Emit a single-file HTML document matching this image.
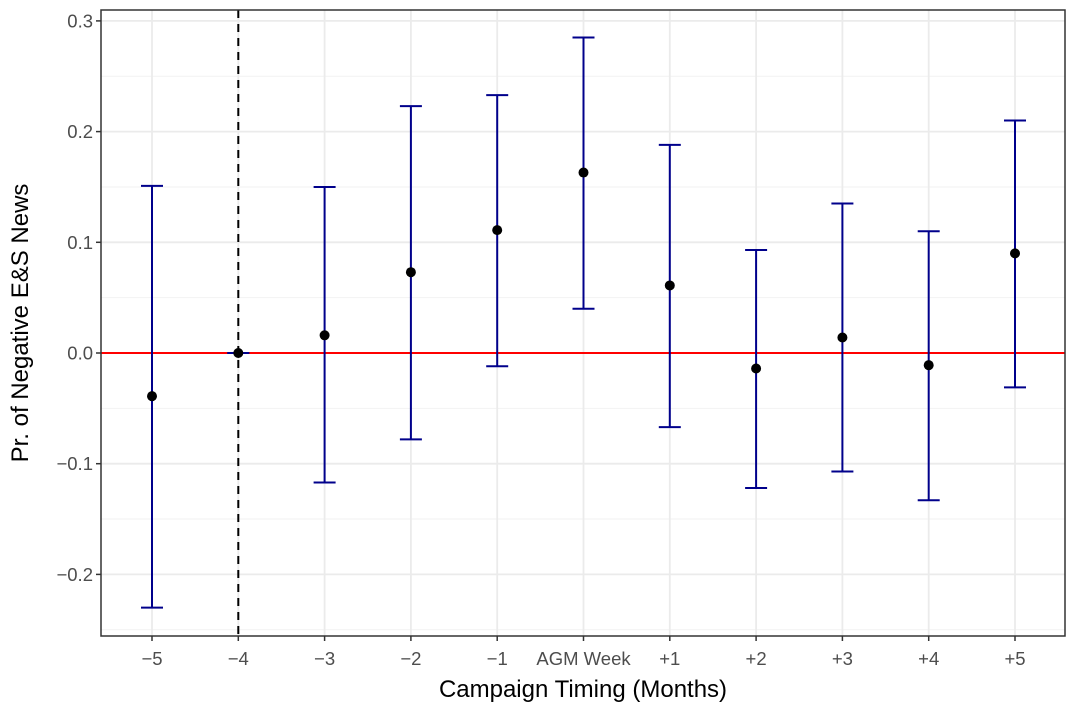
<!DOCTYPE html>
<html><head><meta charset="utf-8"><style>
html,body{margin:0;padding:0;background:#fff;}
svg{display:block;font-family:"Liberation Sans",sans-serif;}
</style></head><body>
<svg id="chart" width="1071" height="702"></svg>
<script>
const categories = ["\u22125","\u22124","\u22123","\u22122","\u22121","AGM Week","+1","+2","+3","+4","+5"];
const estimates = [-0.039, 0, 0.016, 0.073, 0.111, 0.163, 0.061, -0.014, 0.014, -0.011, 0.090];
const upper = [0.151, 0, 0.150, 0.223, 0.233, 0.285, 0.188, 0.093, 0.135, 0.110, 0.210];
const lower = [-0.230, 0, -0.117, -0.078, -0.012, 0.040, -0.067, -0.122, -0.107, -0.133, -0.031];
const yTicks = [-0.2, -0.1, 0.0, 0.1, 0.2, 0.3];
const yTickLabels = ["\u22120.2","\u22120.1","0.0","0.1","0.2","0.3"];
const yMinor = [-0.25, -0.15, -0.05, 0.05, 0.15, 0.25];
const refIndex = 1;

const NS="http://www.w3.org/2000/svg";
const svg=document.getElementById('chart');
const L=101,R=1065,T=10,B=636;
function y(v){return 353 - v*1107;}
function x(i){return 152 + i*86.3;}
function mk(tag,attrs,parent){const e=document.createElementNS(NS,tag);for(const k in attrs)e.setAttribute(k,attrs[k]);(parent||svg).appendChild(e);return e;}

const grid=mk('g',{});


yMinor.forEach(v=>{mk('line',{x1:L,x2:R,y1:y(v),y2:y(v),stroke:'#f2f2f2','stroke-width':1},grid);});
yTicks.forEach(v=>{mk('line',{x1:L,x2:R,y1:y(v),y2:y(v),stroke:'#ebebeb','stroke-width':1.8},grid);});
categories.forEach((c,i)=>{mk('line',{x1:x(i),x2:x(i),y1:T,y2:B,stroke:'#ebebeb','stroke-width':1.8},grid);});

const zl=mk('line',{x1:L,x2:R,y1:y(0),y2:y(0),stroke:'#ff0000','stroke-width':2});


const rl=mk('line',{x1:x(refIndex),x2:x(refIndex),y1:T,y2:B,stroke:'#000','stroke-width':2,'stroke-dasharray':'8,6'});



categories.forEach((c,i)=>{
  const g=mk('g',{});
  
  
  const cx=x(i);
  mk('line',{x1:cx,x2:cx,y1:y(upper[i]),y2:y(lower[i]),stroke:'#00008b','stroke-width':2},g);
  mk('line',{x1:cx-11,x2:cx+11,y1:y(upper[i]),y2:y(upper[i]),stroke:'#00008b','stroke-width':2},g);
  mk('line',{x1:cx-11,x2:cx+11,y1:y(lower[i]),y2:y(lower[i]),stroke:'#00008b','stroke-width':2},g);
  const p=mk('circle',{cx:cx,cy:y(estimates[i]),r:5,fill:'#000'});
  
  
});

const frame=mk('rect',{x:L,y:T,width:R-L,height:B-T,fill:'none',stroke:'#333','stroke-width':1.5});



yTicks.forEach((v,i)=>{
  mk('line',{x1:L-5,x2:L,y1:y(v),y2:y(v),stroke:'#333','stroke-width':1.5});
  const t=mk('text',{x:L-8,y:y(v)+6.5,'text-anchor':'end','font-size':18.5,fill:'#4d4d4d'});
  t.textContent=yTickLabels[i];
  
  
});
categories.forEach((c,i)=>{
  mk('line',{x1:x(i),x2:x(i),y1:B,y2:B+5,stroke:'#333','stroke-width':1.5});
  const t=mk('text',{x:x(i),y:B+29,'text-anchor':'middle','font-size':18.5,fill:'#4d4d4d'});
  t.textContent=c;
  
  
});

const xt=mk('text',{x:(L+R)/2,y:697,'text-anchor':'middle','font-size':24,fill:'#000'});
xt.textContent='Campaign Timing (Months)';


const yt=mk('text',{x:0,y:0,'text-anchor':'middle','font-size':24,fill:'#000',transform:'translate(28,323) rotate(-90)'});
yt.textContent='Pr. of Negative E&S News';


</script>
</body></html>
